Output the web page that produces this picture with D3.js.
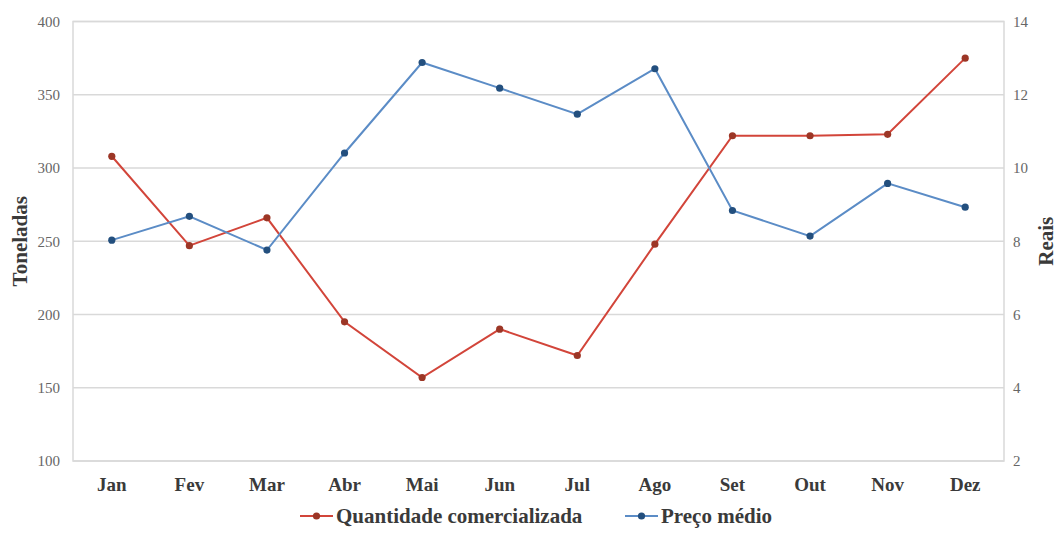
<!DOCTYPE html>
<html>
<head>
<meta charset="utf-8">
<script src="https://cdn.jsdelivr.net/npm/d3@7"></script>
<style>
  html, body { margin: 0; padding: 0; background: #fff; }
  svg { display: block; }
</style>
</head>
<body>
<svg id="chart" width="1059" height="535"></svg>
<script>
// Monthly traded quantity (tonnes) and average price (R$)
const months = ["Jan", "Fev", "Mar", "Abr", "Mai", "Jun", "Jul", "Ago", "Set", "Out", "Nov", "Dez"];
const quantidade = [308, 247, 266, 195, 157, 190, 172, 248, 322, 322, 323, 375];
const preco = [8.03, 8.68, 7.76, 10.41, 12.88, 12.18, 11.47, 12.71, 8.84, 8.14, 9.58, 8.93];
const leftTicks = [100, 150, 200, 250, 300, 350, 400];
const rightTicks = [2, 4, 6, 8, 10, 12, 14];
const seriesNames = ["Quantidade comercializada", "Preço médio"];

const svg = d3.select("#chart");
const serif = "'Liberation Serif', 'Times New Roman', serif";
const m = { left: 73, right: 1004, top: 21.5, bottom: 461 };

const x = d3.scaleBand().domain(months).range([m.left, m.right]).padding(0);
const yL = d3.scaleLinear().domain([100, 400]).range([m.bottom, m.top]);
const yR = d3.scaleLinear().domain([2, 14]).range([m.bottom, m.top]);
const cx = d => x(d) + x.bandwidth() / 2;

// gridlines
svg.append("g").selectAll("line").data(leftTicks).join("line")
  .attr("x1", m.left).attr("x2", m.right)
  .attr("y1", d => yL(d)).attr("y2", d => yL(d))
  .attr("stroke", "#d9d9d9").attr("stroke-width", 1.5);

// plot frame
svg.append("rect")
  .attr("x", m.left).attr("y", m.top)
  .attr("width", m.right - m.left).attr("height", m.bottom - m.top)
  .attr("fill", "none").attr("stroke", "#d9d9d9").attr("stroke-width", 1.5);

// left axis
const axL = svg.append("g").attr("transform", `translate(${m.left},0)`)
  .call(d3.axisLeft(yL).tickValues(leftTicks).tickSize(0).tickPadding(13));
axL.select(".domain").remove();
axL.selectAll("text").attr("font-family", serif).attr("font-size", 15).attr("fill", "#666");

// right axis
const axR = svg.append("g").attr("transform", `translate(${m.right},0)`)
  .call(d3.axisRight(yR).tickValues(rightTicks).tickSize(0).tickPadding(9));
axR.select(".domain").remove();
axR.selectAll("text").attr("font-family", serif).attr("font-size", 15).attr("fill", "#666");

// bottom axis
const axB = svg.append("g").attr("transform", `translate(0,${m.bottom})`)
  .call(d3.axisBottom(x).tickSize(0));
axB.select(".domain").remove();
axB.selectAll("text").attr("y", 30).attr("dy", null)
  .attr("font-family", serif).attr("font-size", 19)
  .attr("font-weight", "bold").attr("fill", "#3a3a3a");

// axis titles
svg.append("text")
  .attr("transform", `translate(27,${(m.top + m.bottom) / 2}) rotate(-90)`)
  .attr("text-anchor", "middle").attr("font-family", serif).attr("font-size", 21)
  .attr("font-weight", "bold").attr("fill", "#3a3a3a").text("Toneladas");
svg.append("text")
  .attr("transform", `translate(1053,${(m.top + m.bottom) / 2}) rotate(-90)`)
  .attr("text-anchor", "middle").attr("font-family", serif).attr("font-size", 21)
  .attr("font-weight", "bold").attr("fill", "#3a3a3a").text("Reais");

const styles = [
  { line: "#d2453a", dot: "#9c3626" },
  { line: "#5b8cc6", dot: "#234f7e" }
];

function drawSeries(values, y, st) {
  const pts = months.map((mo, i) => [cx(mo), y(values[i])]);
  svg.append("path").attr("d", d3.line()(pts))
    .attr("fill", "none").attr("stroke", st.line).attr("stroke-width", 2);
  svg.append("g").selectAll("circle").data(pts).join("circle")
    .attr("cx", d => d[0]).attr("cy", d => d[1]).attr("r", 3.6)
    .attr("fill", st.dot);
}
drawSeries(quantidade, yL, styles[0]);
drawSeries(preco, yR, styles[1]);

// legend
const legX = [300, 625];
const legY = 516;
seriesNames.forEach((name, i) => {
  const g = svg.append("g").attr("transform", `translate(${legX[i]},${legY})`);
  g.append("line").attr("x1", 0).attr("x2", 33).attr("y1", 0).attr("y2", 0)
    .attr("stroke", styles[i].line).attr("stroke-width", 2);
  g.append("circle").attr("cx", 16.5).attr("cy", 0).attr("r", 3.6).attr("fill", styles[i].dot);
  g.append("text").attr("x", 36).attr("y", 6.5)
    .attr("font-family", serif).attr("font-size", 21).attr("font-weight", "bold")
    .attr("fill", "#3a3a3a").text(name);
});
</script>
</body>
</html>
